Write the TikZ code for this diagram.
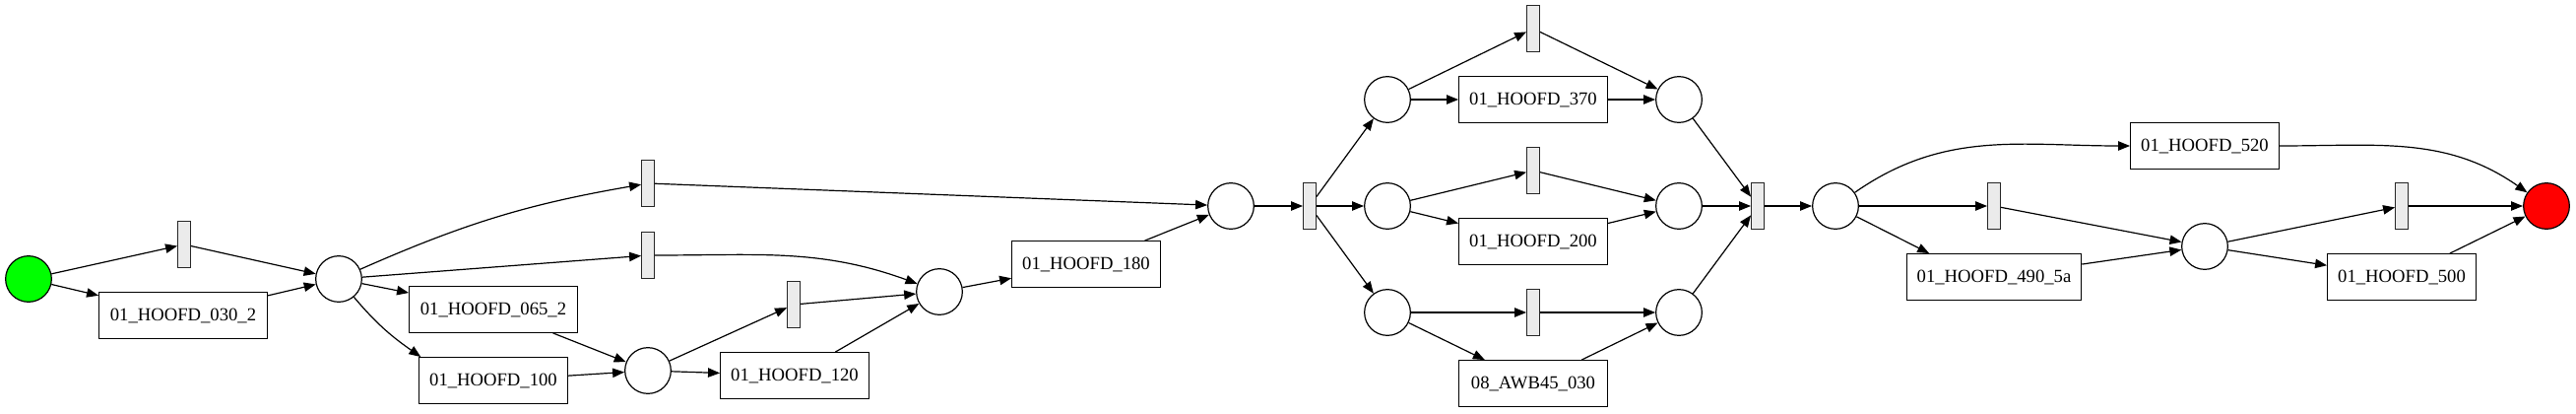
\documentclass[tikz,border=0pt]{standalone}
\usepackage{fontspec}
\setmainfont{Liberation Serif}
\usetikzlibrary{arrows.meta}
\definecolor{tgray}{RGB}{235,235,235}

\begin{document}
\begin{tikzpicture}[x=0.75pt, y=0.75pt,
 font=\fontsize{14}{16}\selectfont,
 place/.style={circle, draw, line width=0.9pt, minimum size=35pt, inner sep=0pt},
 silent/.style={rectangle, draw=black!85, fill=tgray, line width=0.9pt, minimum width=9.5pt, minimum height=35pt, inner sep=0pt},
 task/.style={rectangle, draw, line width=0.9pt, minimum width=113pt, minimum height=35pt, inner sep=2pt},
 flow/.style={-{Triangle[length=9pt, width=7pt]}, line width=0.9pt}]
 \useasboundingbox (0,0) rectangle (2616,419);

 \node[place, fill=green] (src) at (29,136) {};
 \node[silent] (tA) at (187,171) {};
 \node[task, minimum width=128pt] (h030) at (186,99) {01\_HOOFD\_030\_2};
 \node[place] (p1) at (344,136) {};
 \node[silent] (tB) at (658,233) {};
 \node[silent] (tC) at (658,160) {};
 \node[task, minimum width=128pt] (h065) at (501,105) {01\_HOOFD\_065\_2};
 \node[task] (h100) at (501,33) {01\_HOOFD\_100};
 \node[place] (p2) at (658,43) {};
 \node[silent] (tD) at (806,110) {};
 \node[task] (h120) at (807,38) {01\_HOOFD\_120};
 \node[place] (p3) at (954,123) {};
 \node[task] (h180) at (1103,151) {01\_HOOFD\_180};
 \node[place] (p4) at (1250,210) {};
 \node[silent] (tE) at (1330,210) {};

 \node[place] (p5) at (1409,318) {};
 \node[place] (p6) at (1409,210) {};
 \node[place] (p7) at (1409,102) {};
 \node[silent] (tF) at (1557,390) {};
 \node[task] (h370) at (1557,318) {01\_HOOFD\_370};
 \node[silent] (tG) at (1557,246) {};
 \node[task] (h200) at (1557,174) {01\_HOOFD\_200};
 \node[silent] (tH) at (1557,102) {};
 \node[task] (awb) at (1557,30) {08\_AWB45\_030};
 \node[place] (p8) at (1705,318) {};
 \node[place] (p9) at (1705,210) {};
 \node[place] (p10) at (1705,102) {};
 \node[silent] (tI) at (1785,210) {};

 \node[place] (p11) at (1864,210) {};
 \node[silent] (tJ) at (2025,210) {};
 \node[task] (h520) at (2239,271) {01\_HOOFD\_520};
 \node[task, minimum width=133pt] (h490) at (2025,138) {01\_HOOFD\_490\_5a};
 \node[place] (p12) at (2239,169) {};
 \node[silent] (tK) at (2439,210) {};
 \node[task] (h500) at (2439,138) {01\_HOOFD\_500};
 \node[place, fill=red] (snk) at (2586,210) {};

 \draw[flow] (src) -- (tA);
 \draw[flow] (src) -- (h030);
 \draw[flow] (tA) -- (p1);
 \draw[flow] (h030) -- (p1);
 \draw[flow] (p1) to[bend left=7] (tB);
 \draw[flow] (p1) -- (tC);
 \draw[flow] (p1) -- (h065);
 \draw[flow] (p1) to[out=-50, in=145] (h100.162);
 \draw[flow] (h065) -- (p2);
 \draw[flow] (h100) -- (p2);
 \draw[flow] (tB) -- (p4);
 \draw[flow] (tC) to[out=0, in=160] (p3);
 \draw[flow] (p2) -- (tD);
 \draw[flow] (p2) -- (h120);
 \draw[flow] (tD) -- (p3);
 \draw[flow] (h120) -- (p3);
 \draw[flow] (p3) -- (h180);
 \draw[flow] (h180) -- (p4);
 \draw[flow] (p4) -- (tE);

 \draw[flow] (tE) -- (p5);
 \draw[flow] (tE) -- (p6);
 \draw[flow] (tE) -- (p7);
 \draw[flow] (p5) -- (tF);
 \draw[flow] (p5) -- (h370);
 \draw[flow] (p6) -- (tG);
 \draw[flow] (p6) -- (h200);
 \draw[flow] (p7) -- (tH);
 \draw[flow] (p7) -- (awb);
 \draw[flow] (tF) -- (p8);
 \draw[flow] (h370) -- (p8);
 \draw[flow] (tG) -- (p9);
 \draw[flow] (h200) -- (p9);
 \draw[flow] (tH) -- (p10);
 \draw[flow] (awb) -- (p10);
 \draw[flow] (p8) -- (tI);
 \draw[flow] (p9) -- (tI);
 \draw[flow] (p10) -- (tI);
 \draw[flow] (tI) -- (p11);

 \draw[flow] (p11) to[out=35, in=180] (h520.west);
 \draw[flow] (p11) -- (tJ);
 \draw[flow] (p11) -- (h490.160);
 \draw[flow] (tJ) -- (p12);
 \draw[flow] (h490) -- (p12);
 \draw[flow] (p12) -- (tK);
 \draw[flow] (p12) -- (h500);
 \draw[flow] (h520.east) to[out=0, in=145] (snk);
 \draw[flow] (tK) -- (snk);
 \draw[flow] (h500) -- (snk);
\end{tikzpicture}
\end{document}
